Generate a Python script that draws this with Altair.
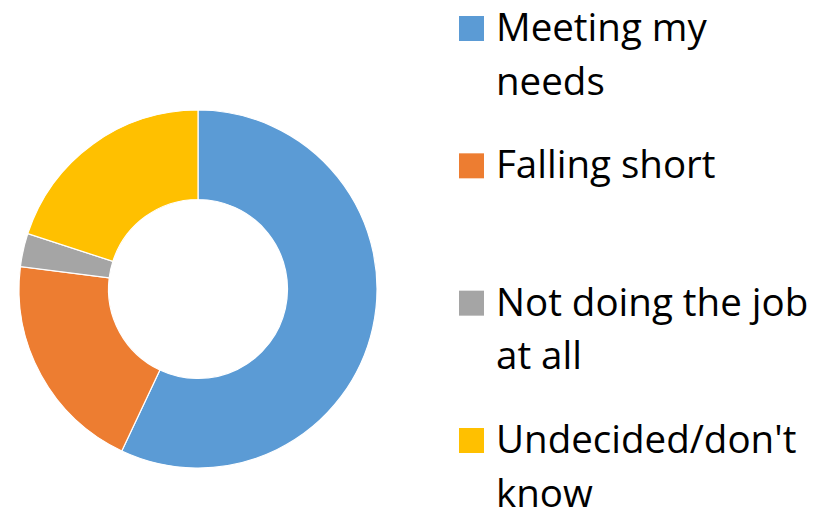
import altair as alt
import pandas as pd

categories = ["Meeting my needs", "Falling short", "Not doing the job at all", "Undecided/don't know"]
display_labels = ["Meeting my\nneeds", "Falling short", "Not doing the job\nat all", "Undecided/don't\nknow"]
values = [57, 20, 3, 20]
colors = ["#5B9BD5", "#ED7D31", "#A5A5A5", "#FFC000"]

df = pd.DataFrame({
    "category": categories,
    "label": display_labels,
    "value": values,
    "idx": list(range(len(categories))),
})

color = alt.Color("category:N", scale=alt.Scale(domain=categories, range=colors), legend=None)

base = alt.Chart(df)

donut = base.mark_arc(outerRadius=179, innerRadius=89.5, stroke="white", strokeWidth=1.2).encode(
    theta=alt.Theta("value:Q", stack=True),
    color=color,
    order=alt.Order("idx:Q"),
    x=alt.value(190),
    y=alt.value(281),
)

yenc = alt.Y("category:N", sort=categories,
             scale=alt.Scale(type="point", range=[20.5, 432.5], padding=0), axis=None)

swatches = base.mark_square(size=625, opacity=1).encode(
    x=alt.value(463.5),
    y=yenc,
    color=color,
)

texts = base.mark_text(
    align="left", baseline="alphabetic", dy=12.5, fontSize=38.5,
    font="Open Sans", color="#000000", lineBreak="\n", lineHeight=53.5,
).encode(
    x=alt.value(488),
    y=yenc,
    text="label:N",
)

chart = alt.layer(donut, swatches, texts).properties(
    width=809, height=492, padding=0
).configure_view(stroke=None)

chart.save("out.html", embed_options={"renderer": "svg", "actions": False})
